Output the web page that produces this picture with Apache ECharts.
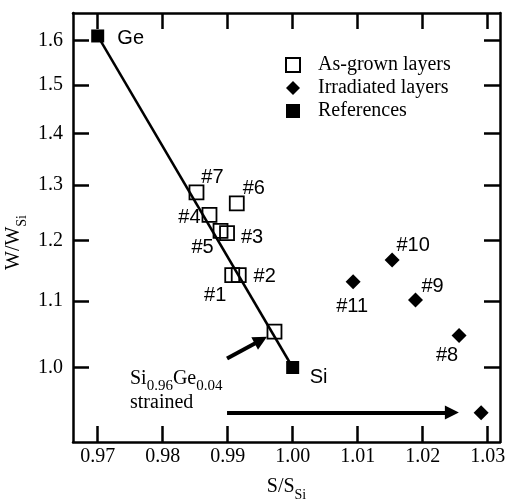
<!DOCTYPE html>
<html>
<head>
<meta charset="utf-8">
<script src="https://cdn.jsdelivr.net/npm/echarts@6/dist/echarts.min.js"></script>
<style>
  html, body { margin: 0; padding: 0; background: #fff; }
  #chart { width: 505px; height: 499px; }
</style>
</head>
<body>
<div id="chart"></div>
<script>
// as-grown layers (open squares)
const grownX = [0.9852, 0.9914, 0.9872, 0.9889, 0.9899, 0.9907, 0.9917, 0.9972];
const grownY = [1.286, 1.266, 1.245, 1.217, 1.213, 1.142, 1.142, 1.053];
const grownNames = ['#7', '#6', '#4', '#5', '#3', '#1', '#2', ''];
// irradiated layers (diamonds)
const irrX = [1.0153, 1.0093, 1.0189, 1.0256, 1.0290];
const irrY = [1.167, 1.131, 1.102, 1.047, 0.937];
const irrNames = ['#10', '#11', '#9', '#8', ''];
// references Ge / Si
const refX = [0.97, 1.00];
const refY = [1.61, 1.00];
const refNames = ['Ge', 'Si'];
// arrows (start / end, data coords)
const arrowFrom = [[0.9899, 1.013], [0.9899, 0.9373]];
const arrowTo = [[0.9951, 1.040], [1.0245, 0.9373]];
// ticks
const xTicks = [0.97, 0.98, 0.99, 1.00, 1.01, 1.02, 1.03];
const yTicks = [1.0, 1.1, 1.2, 1.3, 1.4, 1.5, 1.6];

const serif = '"Liberation Serif", "DejaVu Serif", serif';
const sans = '"Liberation Sans", Arial, sans-serif';

// label offsets (px) for the point labels
const labelOffset = {
  '#7': [16, -15], '#6': [17, -15], '#4': [-20, 3], '#5': [-18, 17],
  '#3': [25, 4], '#1': [-17, 20], '#2': [26, 1],
  '#10': [21, -14], '#11': [-1, 25], '#9': [17, -13], '#8': [-12, 20],
  'Ge': [33, 3], 'Si': [26, 10]
};

function points(xs, ys, names) {
  return xs.map((x, i) => {
    const n = names[i];
    const item = { value: [x, ys[i]], name: n };
    if (n) {
      item.label = {
        show: true, formatter: n, position: 'inside', offset: labelOffset[n],
        color: '#000', fontFamily: sans, fontSize: 20
      };
    }
    return item;
  });
}

const pointLabel = { show: false, color: '#000', fontFamily: sans, fontSize: 20 };

const axisLine = { show: true, lineStyle: { color: '#000', width: 2.5 } };
const tick = { show: true, inside: true, length: 16, lineStyle: { color: '#000', width: 2.5 } };

const subRich = {
  a: { fontFamily: serif, fontSize: 20, color: '#000', verticalAlign: 'bottom', padding: [0, 0, 5, 0] },
  b: { fontFamily: serif, fontSize: 14, color: '#000', verticalAlign: 'bottom' }
};

const chart = echarts.init(document.getElementById('chart'));
chart.setOption({
  animation: false,
  backgroundColor: '#fff',
  grid: { left: 73, right: 5, top: 13, bottom: 57, containLabel: false, outerBoundsMode: 'none' },
  legend: {
    orient: 'vertical',
    left: 280,
    top: 50,
    itemWidth: 14,
    itemHeight: 14,
    itemGap: 3,
    data: ['As-grown layers', 'Irradiated layers', 'References'],
    textStyle: { fontFamily: serif, fontSize: 20, color: '#000', padding: [0, 0, 0, 13] }
  },
  xAxis: [
    {
      type: 'value', min: 0.9662, max: 1.0319, position: 'bottom',
      axisLine: axisLine,
      axisTick: Object.assign({ customValues: xTicks }, tick),
      splitLine: { show: false },
      axisLabel: {
        customValues: xTicks, margin: 5, color: '#000', fontFamily: serif, fontSize: 20,
        formatter: v => v.toFixed(2)
      },
      name: '{a|S/S}{b|Si}',
      nameLocation: 'middle',
      nameGap: 35,
      nameMoveOverlap: false,
      nameTextStyle: { rich: subRich }
    },
    {
      type: 'value', min: 0.9662, max: 1.0319, position: 'top',
      axisLine: axisLine,
      axisTick: Object.assign({ customValues: xTicks }, tick),
      axisLabel: { show: false },
      splitLine: { show: false }
    }
  ],
  yAxis: [
    {
      type: 'log', logBase: 10, min: 0.8985, max: 1.664, position: 'left',
      axisLine: axisLine,
      axisTick: Object.assign({ customValues: yTicks }, tick),
      minorTick: { show: false },
      splitLine: { show: false },
      axisLabel: {
        customValues: yTicks, margin: 10, color: '#000', fontFamily: serif, fontSize: 20,
        formatter: v => v.toFixed(1)
      },
      name: '{a|W/W}{b|Si}',
      nameLocation: 'middle',
      nameGap: 44,
      nameRotate: 90,
      nameMoveOverlap: false,
      nameTextStyle: { padding: [0, 30, 0, 0], rich: subRich }
    },
    {
      type: 'log', logBase: 10, min: 0.8985, max: 1.664, position: 'right',
      axisLine: axisLine,
      axisTick: Object.assign({ customValues: yTicks }, tick),
      axisLabel: { show: false },
      splitLine: { show: false }
    }
  ],
  series: [
    {
      type: 'line',
      data: refX.map((x, i) => [x, refY[i]]),
      symbol: 'none',
      lineStyle: { color: '#000', width: 2.5 },
      z: 1,
      silent: true,
      markLine: {
        silent: true,
        symbol: ['none', 'triangle'],
        symbolSize: 14,
        label: { show: false },
        lineStyle: { color: '#000', width: 4, type: 'solid', opacity: 1 },
        data: arrowFrom.map((p, i) => [{ coord: p }, { coord: arrowTo[i] }])
      }
    },
    {
      name: 'As-grown layers',
      type: 'scatter',
      symbol: 'rect',
      symbolSize: 14,
      itemStyle: { color: 'rgba(255,255,255,0)', borderColor: '#000', borderWidth: 1.8, opacity: 1 },
      label: pointLabel,
      z: 3,
      data: points(grownX, grownY, grownNames)
    },
    {
      name: 'Irradiated layers',
      type: 'scatter',
      symbol: 'diamond',
      symbolSize: 15,
      itemStyle: { color: '#000', opacity: 1 },
      label: pointLabel,
      z: 3,
      data: points(irrX, irrY, irrNames)
    },
    {
      name: 'References',
      type: 'scatter',
      symbol: 'rect',
      symbolSize: 13,
      itemStyle: { color: '#000', opacity: 1 },
      label: pointLabel,
      z: 4,
      data: points(refX, refY, refNames)
    }
  ],
  graphic: [
    {
      type: 'text',
      left: 130,
      top: 369,
      style: {
        text: '{m|Si}{s|0.96}{m|Ge}{s|0.04}\n{m|strained}',
        rich: {
          m: { fontFamily: serif, fontSize: 20, fill: '#000', lineHeight: 24, verticalAlign: 'bottom', padding: [0, 0, 5, 0] },
          s: { fontFamily: serif, fontSize: 15, fill: '#000', verticalAlign: 'bottom' }
        }
      }
    }
  ]
});
</script>
</body>
</html>
